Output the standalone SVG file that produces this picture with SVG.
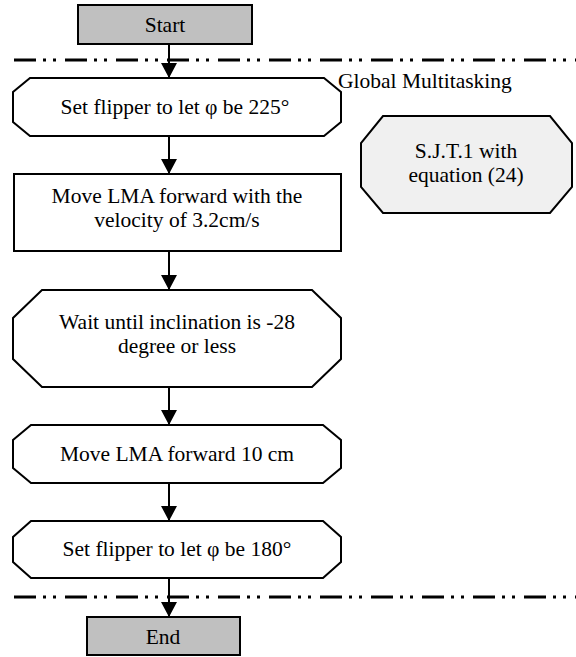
<svg xmlns="http://www.w3.org/2000/svg" width="576" height="657" viewBox="0 0 576 657">
  <defs>
    <marker id="arrow" markerUnits="userSpaceOnUse" markerWidth="16" markerHeight="16" refX="15" refY="8" orient="auto">
      <path d="M0,0 L15,8 L0,16 Z" fill="#000"/>
    </marker>
  </defs>
  <style>
    .c { text-anchor: middle; }
    .shape { stroke: #000; stroke-width: 2; stroke-linejoin: miter; }
    .term { fill: #c0c0c0; }
    .step { fill: #fff; }
    .task { fill: #f0f0f0; }
    .edge { stroke: #000; stroke-width: 2; fill: none; marker-end: url(#arrow); }
    .zone { stroke: #000; stroke-width: 3; fill: none; stroke-dasharray: 22 7 3 7 3 9; }
  </style>

  <rect width="576" height="657" fill="#fff"/>

  <g font-family="Liberation Serif, Times New Roman, serif" font-size="21.5" fill="#000">

  <!-- boundaries of the global multitasking zone -->
  <g id="zone">
    <line class="zone" x1="14" y1="60" x2="576" y2="60"/>
    <line class="zone" x1="14" y1="597" x2="576" y2="597"/>
    <text x="338" y="88">Global Multitasking</text>
  </g>

  <g id="connectors">
    <line class="edge" x1="169" y1="44" x2="169" y2="78"/>
    <line class="edge" x1="169" y1="136" x2="169" y2="174"/>
    <line class="edge" x1="169" y1="251" x2="169" y2="290"/>
    <line class="edge" x1="169" y1="387" x2="169" y2="425"/>
    <line class="edge" x1="169" y1="483" x2="169" y2="521"/>
    <line class="edge" x1="169" y1="578" x2="169" y2="617"/>
  </g>

  <g id="start">
    <rect class="shape term" x="78" y="5" width="174" height="39"/>
    <text class="c" x="165" y="32">Start</text>
  </g>

  <g id="flipper225">
    <polygon class="shape step" points="30,78 324,78 341,92 341,122 324,136 30,136 13,122 13,92"/>
    <text class="c" x="175" y="114">Set flipper to let φ be 225°</text>
  </g>

  <g id="sjt1">
    <polygon class="shape task" points="383,116 550,116 572,143 572,187 550,213 383,213 361,187 361,143"/>
    <text class="c" x="466" y="158">S.J.T.1 with</text>
    <text class="c" x="466" y="182">equation (24)</text>
  </g>

  <g id="moveVelocity">
    <rect class="shape step" x="14" y="174" width="327" height="77"/>
    <text class="c" x="177" y="203">Move LMA forward with the</text>
    <text class="c" x="177" y="227">velocity of 3.2cm/s</text>
  </g>

  <g id="waitInclination">
    <polygon class="shape step" points="42,290 312,290 341,318 341,359 312,387 42,387 13,359 13,318"/>
    <text class="c" x="177" y="329">Wait until inclination is -28</text>
    <text class="c" x="177" y="353">degree or less</text>
  </g>

  <g id="move10cm">
    <polygon class="shape step" points="31,425 323,425 341,440 341,468 323,483 31,483 13,468 13,440"/>
    <text class="c" x="177" y="461">Move LMA forward 10 cm</text>
  </g>

  <g id="flipper180">
    <polygon class="shape step" points="31,521 323,521 341,537 341,562 323,578 31,578 13,562 13,537"/>
    <text class="c" x="177" y="556">Set flipper to let φ be 180°</text>
  </g>

  <g id="end">
    <rect class="shape term" x="87" y="617" width="153" height="38"/>
    <text class="c" x="163" y="644">End</text>
  </g>

  </g>
</svg>
